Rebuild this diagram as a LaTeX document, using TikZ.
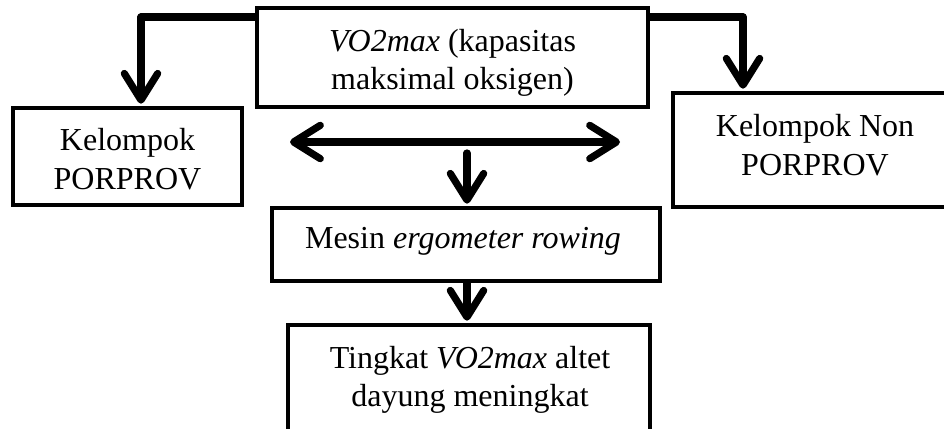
\documentclass[tikz,border=0pt]{standalone}
\usepackage{fontspec}
\setmainfont{Liberation Serif}
\usetikzlibrary{arrows.meta}
\begin{document}
\begin{tikzpicture}[x=0.75pt,y=-0.75pt,
  box/.style={draw=black,line width=3.4pt,fill=white,inner sep=0pt},
  txt/.style={align=center,inner sep=0pt,font=\fontsize{24}{29}\selectfont},
  conn/.style={line width=5.4pt,line cap=round,line join=round},
  tipped/.style={conn,-{Straight Barb[length=20pt,width=25pt,round]}},
  both/.style={conn,{Straight Barb[length=20pt,width=25pt,round]}-{Straight Barb[length=20pt,width=25pt,round]}}]
\useasboundingbox (0,0) rectangle (944,428);
\clip (0,0) rectangle (944,428);
\node[box,minimum width=293.25pt,minimum height=74.25pt] (top) at (452.5,57.5) {};
\node[txt] (topT) at (452.5,63) {\textit{VO2max} (kapasitas\\maksimal oksigen)};
\node[box,minimum width=171.75pt,minimum height=72.75pt] (left) at (127.5,156.5) {};
\node[txt] (leftT) at (127.5,159) {Kelompok\\PORPROV};
\node[box,minimum width=213pt,minimum height=85.5pt] (right) at (815,150) {};
\node[txt] (rightT) at (815,145) {Kelompok Non\\PORPROV};
\node[box,minimum width=291pt,minimum height=54.75pt] (mid) at (466,244.5) {};
\node[txt] (midT) at (463,241) {Mesin \textit{ergometer rowing}};
\node[box,minimum width=271.5pt,minimum height=83.25pt] (bot) at (469,380.5) {};
\node[txt] (botT) at (470,380) {Tingkat \textit{VO2max} altet\\dayung meningkat};
\coordinate (lj) at (141,17);
\coordinate (rj) at (743,17);
\coordinate (da) at (290,142);
\coordinate (db) at (620,142);
\coordinate (ds) at (467,153);
\draw[conn] (top.west |- lj) -- (lj);
\draw[tipped] (lj) -- ([yshift=1.5pt]lj |- left.north);
\draw[conn] (top.east |- rj) -- (rj);
\draw[tipped] (rj) -- ([yshift=1.5pt]rj |- right.north);
\draw[both] (da) -- (db);
\draw[tipped] (ds) -- ([yshift=1.5pt]ds |- mid.north);
\draw[tipped] (mid.south -| ds) -- ([yshift=1.5pt]ds |- bot.north);
\end{tikzpicture}
\end{document}
